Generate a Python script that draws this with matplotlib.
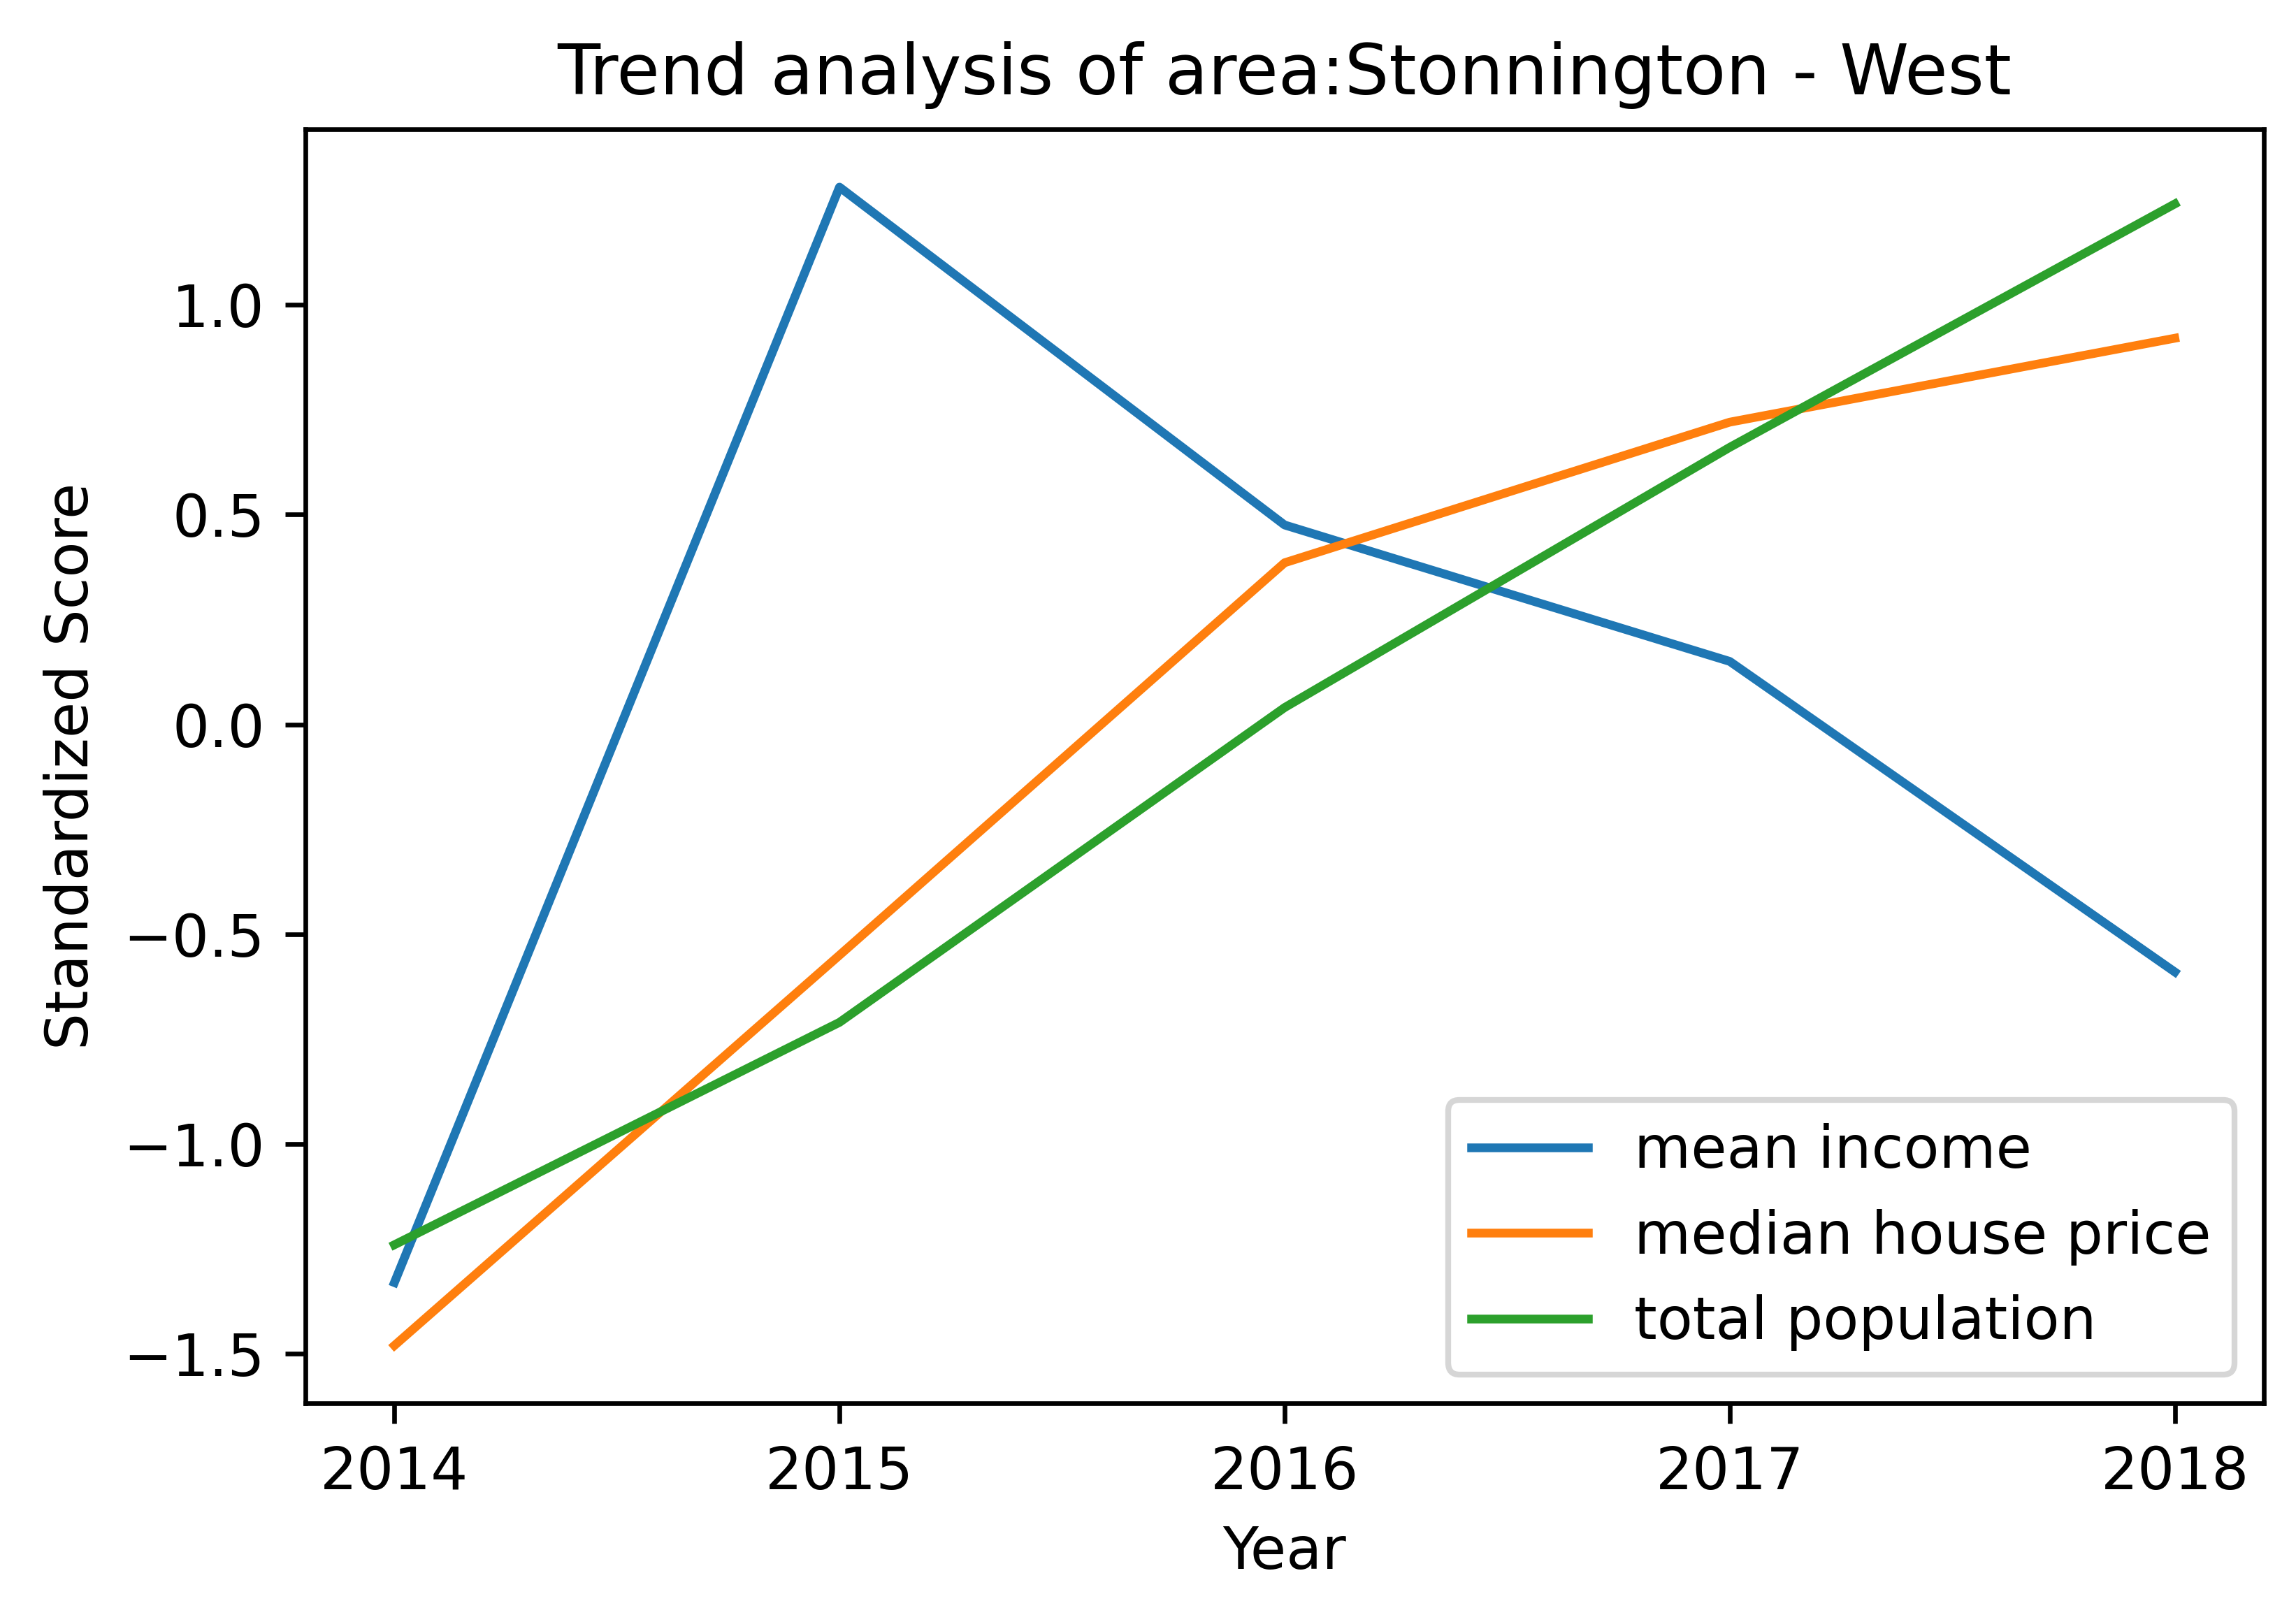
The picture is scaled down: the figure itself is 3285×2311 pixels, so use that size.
import matplotlib
matplotlib.use("Agg")
import matplotlib.pyplot as plt

years = [2014, 2015, 2016, 2017, 2018]
mean_income = [-1.33, 1.28, 0.475, 0.15, -0.59]
median_house_price = [-1.48, -0.55, 0.385, 0.72, 0.92]
total_population = [-1.24, -0.71, 0.04, 0.66, 1.24]

fig, ax = plt.subplots(figsize=(3285 / 600, 2311 / 600), dpi=600)
fig.subplots_adjust(left=0.133, right=0.986, top=0.92, bottom=0.131)

ax.plot(years, mean_income, label="mean income")
ax.plot(years, median_house_price, label="median house price")
ax.plot(years, total_population, label="total population")

ax.set_xticks(years)
ax.set_title("Trend analysis of area:Stonnington - West")
ax.set_xlabel("Year")
ax.set_ylabel("Standardized Score")
ax.legend(loc="lower right")

fig.savefig("out.png", dpi=600)
